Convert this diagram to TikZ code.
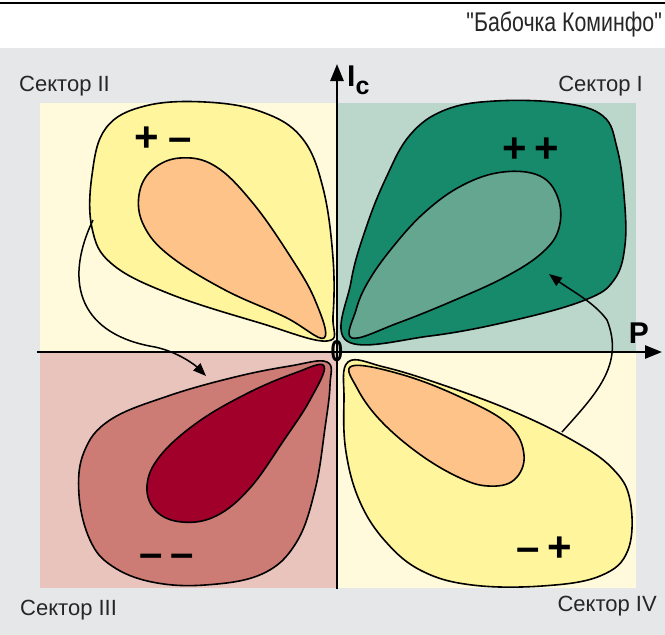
\documentclass[tikz,border=0pt]{standalone}
\usepackage{fontspec}
\setmainfont{Liberation Sans}
\newfontfamily\titlefont{Liberation Sans}
\usetikzlibrary{arrows.meta}
\definecolor{bggray}{HTML}{E6E7E8}
\definecolor{cream}{HTML}{FFFADC}
\definecolor{lteal}{HTML}{BBD6CB}
\definecolor{lpink}{HTML}{E8C4BC}
\definecolor{yel}{HTML}{FFF59C}
\definecolor{orng}{HTML}{FDC388}
\definecolor{dgreen}{HTML}{178A6C}
\definecolor{mgreen}{HTML}{64A68F}
\definecolor{rose}{HTML}{CC7C74}
\definecolor{crim}{HTML}{A1002B}
\begin{document}
\begin{tikzpicture}[x=1pt,y=-1pt,
  blob/.style={draw=black,line width=1.6pt,line join=round},
  axis/.style={line width=2.6pt,-{Triangle[length=17pt,width=13pt]}},
  flow/.style={line width=1.5pt,-{Triangle[length=13pt,width=10pt]}},
  sector/.style={font=\fontsize{22}{24}\selectfont,text=black!85,inner sep=0pt},
  sign/.style={font=\bfseries\fontsize{42}{44}\selectfont,inner sep=0pt},
  axlabel/.style={font=\bfseries\fontsize{30}{32}\selectfont,inner sep=0pt}]
\useasboundingbox (0,0) rectangle (665,635);
\fill[white] (0,0) rectangle (665,635);
\fill[bggray] (0,48) rectangle (665,635);
\draw[line width=2pt] (0,3) -- (665,3);
\node[anchor=east,inner sep=0pt,font=\titlefont\fontsize{27}{30}\selectfont,xscale=0.79,transform shape,text=black!85] (title) at (662,24) {"Бабочка Коминфо"};
% quadrant backgrounds
\fill[cream] (40,103) rectangle (337,352);
\fill[lteal] (337,103) rectangle (636,352);
\fill[lpink] (40,352) rectangle (337,588);
\fill[cream] (337,352) rectangle (636,588);
% Sector II blobs
\draw[blob,fill=yel] plot[smooth cycle,tension=0.65] coordinates {(327,341) (260,323) (170,294) (112,264) (92,228) (92,175) (106,128) (145,106) (205,102) (262,112) (302,138) (323,188) (333,258) (333,316)};
\draw[blob,fill=orng] plot[smooth cycle,tension=0.65] coordinates {(324,338) (285,317) (225,290) (170,256) (144,226) (139,195) (152,170) (180,158) (215,166) (252,202) (290,256) (315,300)};
% Sector I blobs
\draw[blob,fill=dgreen] plot[smooth cycle,tension=0.65] coordinates {(347,341) (351,282) (366,228) (386,178) (410,135) (445,110) (495,101) (562,103) (603,116) (617,148) (624,195) (625,245) (614,280) (585,300) (515,320) (430,336)};
\draw[blob,fill=mgreen] plot[smooth cycle,tension=0.65] coordinates {(352,338) (356,310) (368,282) (392,248) (425,212) (463,185) (503,172) (540,176) (558,198) (559,228) (543,252) (507,276) (455,300) (398,323)};
% Sector III blobs
\draw[blob,fill=rose] plot[smooth cycle,tension=0.65] coordinates {(327,362) (290,366) (235,377) (168,396) (110,420) (84,452) (79,495) (90,540) (112,566) (152,582) (205,585) (262,574) (296,543) (315,490) (325,428) (330,385)};
\draw[blob,fill=crim] plot[smooth cycle,tension=0.65] coordinates {(324,366) (295,373) (248,393) (198,422) (160,456) (147,486) (156,511) (182,522) (216,516) (250,488) (284,440) (310,400)};
% Sector IV blobs
\draw[blob,fill=yel] plot[smooth cycle,tension=0.65] coordinates {(348,362) (344,400) (346,452) (360,502) (386,542) (422,571) (472,585) (542,586) (600,576) (628,550) (630,500) (612,468) (572,440) (510,410) (440,384) (384,367)};
\draw[blob,fill=orng] plot[smooth cycle,tension=0.65] coordinates {(352,366) (400,374) (458,396) (508,424) (524,455) (514,480) (488,486) (458,477) (418,453) (380,420) (357,388)};
% axes
\coordinate (xs) at (37,352);
\coordinate (xe) at (662,352);
\coordinate (ys) at (337,589);
\coordinate (ye) at (337,64);
\draw[axis] (xs) -- (xe);
\draw[axis] (ys) -- (ye);
\node[axlabel] (P) at (639,333) {P};
\node[axlabel,anchor=north west] (Ic) at (347,66) {I\raisebox{-0.25em}{\fontsize{25}{26}\selectfont c}};
\node[font=\bfseries\fontsize{30}{30}\selectfont,inner sep=0pt,xscale=0.75,transform shape] (zero) at (337,351) {0};
% flow arrows
\coordinate (a1) at (93,220);
\coordinate (a2) at (206,376);
\draw[flow] (a1) .. controls (62,285) and (82,335) .. (155,347) .. controls (178,352) and (195,365) .. (a2);
\coordinate (b1) at (562,432);
\coordinate (b2) at (549,274);
\draw[flow] (b1) .. controls (595,395) and (625,365) .. (607,320) .. controls (594,302) and (570,290) .. (b2);
% signs
\node[sign] (s2) at (163,139) {+\hspace{9pt}–};
\node[sign] (s1) at (531,150) {+\hspace{7pt}+};
\node[sign] (s3) at (167,561) {–\hspace{8pt}–};
\node[sign] (s4) at (544,549) {–\hspace{8pt}+};
% sector labels
\node[sector,anchor=west] (L2) at (19,86) {Сектор II};
\node[sector,anchor=east] (L1) at (643,86) {Сектор I};
\node[sector,anchor=west] (L3) at (20,610) {Сектор III};
\node[sector,anchor=east] (L4) at (657,606) {Сектор IV};
\end{tikzpicture}
\end{document}
